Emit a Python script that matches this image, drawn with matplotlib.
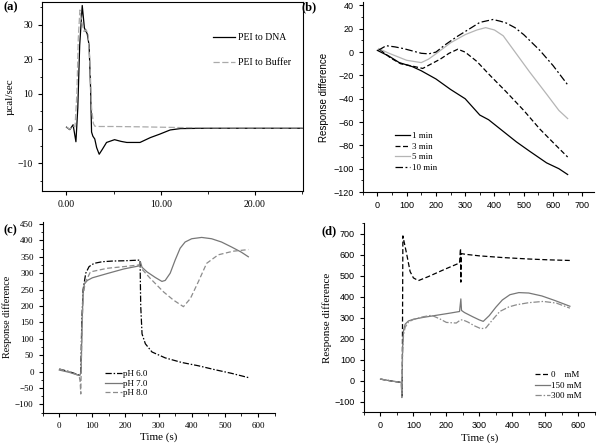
import numpy as np
import matplotlib
matplotlib.use('Agg')
import matplotlib.pyplot as plt
from matplotlib.ticker import MultipleLocator, FormatStrFormatter

# (a) ITC traces
dna_t = [0, 0.35, 0.7, 1.0, 1.2, 1.4, 1.67, 1.9, 2.2, 2.4, 2.55, 2.66, 2.8, 3.0, 3.2, 3.47, 3.8, 4.25, 5.1, 5.8, 6.4, 7.8, 8.9, 9.9, 11.0, 12.1, 15, 20, 25]
dna_y = [0.4, -0.3, 1.1, -3.8, 6, 24, 35.5, 29, 27.3, 24, 12, -1, -2.2, -3, -5.5, -7.4, -6, -4, -3.2, -3.7, -4, -4, -2.6, -1.6, -0.4, 0, 0.1, 0.1, 0.1]
buf_t = [0, 0.35, 0.7, 0.9, 1.1, 1.25, 1.42, 1.6, 1.85, 2.1, 2.3, 2.5, 2.66, 2.85, 3.0, 3.5, 5, 8, 12, 18, 25]
buf_y = [0.4, -0.2, 0.8, 0.5, 10, 26, 34.2, 31, 28, 28.5, 27, 18, 6, 1.5, 0.7, 0.6, 0.6, 0.5, 0.3, 0.2, 0.2]

# (b) injection interval
m1_x = [0, 40, 75, 120, 150, 200, 250, 300, 350, 380, 430, 475, 520, 578, 620, 650]
m1_y = [1.5, -3.5, -9, -12.5, -16, -23, -32, -40, -54, -58, -68, -77, -85, -95, -100, -105]
m3_x = [10, 45, 80, 120, 155, 185, 215, 245, 275, 300, 340, 385, 440, 500, 555, 610, 650]
m3_y = [2, -5, -10, -12, -14, -10, -6, -1, 2.5, 0, -8, -20, -34, -50, -66, -80, -90]
m5_x = [5, 40, 100, 150, 175, 200, 250, 300, 340, 370, 400, 430, 475, 520, 578, 620, 650]
m5_y = [3, -1, -7, -9, -6, -1.5, 8, 15, 19, 21, 19, 14, -1.5, -17, -36, -50, -57]
m10_x = [3, 30, 60, 90, 120, 150, 175, 200, 230, 270, 315, 350, 395, 420, 440, 470, 500, 555, 600, 650]
m10_y = [1.5, 5.5, 4.5, 3, 1, -1, -1.5, 0, 6, 13, 20, 25.5, 28, 26.5, 25, 21, 15, 1.5, -11.5, -28]

# (c) pH
ph6_x = [0, 30, 60, 65, 68, 72, 80, 90, 105, 130, 160, 200, 244, 246, 250, 260, 280, 320, 370, 420, 470, 520, 571]
ph6_y = [8, 0, -10, -5, 150, 250, 300, 320, 330, 335, 337, 338, 340, 200, 115, 85, 60, 42, 28, 18, 6, -5, -18]
ph7_x = [0, 30, 62, 66, 69, 72, 76, 85, 100, 145, 195, 240, 245, 250, 265, 290, 310, 320, 335, 350, 365, 380, 400, 430, 460, 490, 520, 550, 571]
ph7_y = [5, -2, -12, 0, 150, 240, 268, 278, 286, 299, 313, 322, 335, 318, 304, 287, 275, 278, 300, 340, 376, 395, 405, 409, 405, 395, 380, 364, 350]
ph8_x = [0, 30, 60, 63, 65, 68, 72, 78, 94, 145, 195, 240, 250, 275, 315, 345, 375, 396, 420, 445, 480, 525, 571]
ph8_y = [8, 0, -12, -30, -68, 100, 230, 270, 304, 315, 320, 325, 312, 284, 243, 218, 198, 223, 274, 330, 356, 367, 372]

# (d) salt
s0_x = [0, 30, 64, 66, 68, 72, 80, 90, 100, 115, 145, 195, 240, 243, 244, 245, 248, 260, 300, 370, 450, 510, 575]
s0_y = [8, 0, -8, -80, 690, 660, 600, 520, 490, 477, 496, 531, 561, 630, 470, 605, 605, 602, 595, 587, 580, 576, 573]
s150_x = [0, 30, 63, 65, 67, 70, 75, 85, 100, 130, 170, 210, 240, 244, 246, 255, 280, 300, 312, 330, 350, 370, 393, 420, 450, 490, 530, 575]
s150_y = [8, 0, -8, -60, 150, 240, 270, 285, 293, 302, 312, 322, 330, 390, 335, 325, 305, 290, 283, 310, 350, 385, 410, 420, 418, 404, 382, 355]
s300_x = [0, 30, 63, 65, 67, 70, 75, 85, 100, 130, 155, 180, 200, 230, 243, 250, 265, 285, 305, 320, 340, 362, 390, 413, 450, 494, 534, 575]
s300_y = [8, 0, -8, -80, 120, 220, 255, 280, 292, 305, 312, 295, 278, 275, 290, 290, 280, 262, 248, 252, 290, 330, 352, 362, 372, 378, 370, 346]

serif = 'Liberation Serif'
sans = 'Liberation Sans'
plt.rcParams['font.family'] = serif
plt.rcParams['xtick.direction'] = 'out'
plt.rcParams['ytick.direction'] = 'out'
plt.rcParams['xtick.major.size'] = 3
plt.rcParams['ytick.major.size'] = 3
plt.rcParams['xtick.minor.size'] = 1.8
plt.rcParams['ytick.minor.size'] = 1.8
plt.rcParams['axes.linewidth'] = 0.8

fig = plt.figure(figsize=(5.97, 4.43), dpi=100)
W, H = 597.0, 443.0

def box(l, t, r, b):
    return [l / W, 1 - b / H, (r - l) / W, (b - t) / H]

def tickfont(ax, fam, size):
    for lab in ax.get_xticklabels() + ax.get_yticklabels():
        lab.set_fontfamily(fam)
        lab.set_fontsize(size)

def leg(ax, l, t, r, b, x0, y0, **kw):
    # anchor legend at pixel position inside the axes box
    ax.legend(loc='upper left', bbox_to_anchor=((x0 - l) / (r - l), 1 - (y0 - t) / (b - t)),
              frameon=False, borderpad=0, borderaxespad=0, **kw)

# ---- (a)
A = (42, 2, 303, 191)
ax = fig.add_axes(box(*A))
ax.plot(dna_t, dna_y, color='black', lw=0.9, label='PEI to DNA')
ax.plot(buf_t, buf_y, color='#aaaaaa', lw=0.9, dashes=(5, 2), label='PEI to Buffer')
ax.set_xlim(-2.6, 25.1)
ax.set_ylim(-18, 36.5)
ax.xaxis.set_major_locator(MultipleLocator(10))
ax.xaxis.set_minor_locator(MultipleLocator(5))
ax.yaxis.set_major_locator(MultipleLocator(10))
ax.yaxis.set_minor_locator(MultipleLocator(5))
ax.xaxis.set_major_formatter(FormatStrFormatter('%.2f'))
ax.set_ylabel('\u00b5cal/sec', fontsize=8, family=serif, labelpad=2)
tickfont(ax, serif, 7)
leg(ax, *A, 213, 33.5, fontsize=7, handlelength=2.3, handletextpad=0.3, labelspacing=1.6)
fig.text(3 / W, 1 - 7 / H, '(a)', fontsize=9, fontweight='bold', family=serif, va='center')

# ---- (b)
B = (362.7, 2, 594, 192)
ax = fig.add_axes(box(*B))
ax.plot(m1_x, m1_y, color='black', lw=0.9, label='1 min')
ax.plot(m3_x, m3_y, color='black', lw=0.9, dashes=(4, 2), label='3 min')
ax.plot(m5_x, m5_y, color='#b5b5b5', lw=0.9, label='5 min')
ax.plot(m10_x, m10_y, color='black', lw=0.9, dashes=(6, 2, 1.5, 2), label='10 min')
ax.set_xlim(-50, 740)
ax.set_ylim(-120, 43)
ax.spines['top'].set_visible(False)
ax.spines['right'].set_visible(False)
ax.xaxis.set_major_locator(MultipleLocator(100))
ax.xaxis.set_minor_locator(MultipleLocator(50))
ax.yaxis.set_major_locator(MultipleLocator(20))
ax.yaxis.set_minor_locator(MultipleLocator(10))
ax.set_xticks(range(0, 701, 100))
ax.set_ylabel('Response difference', fontsize=7, family=sans, labelpad=3)
tickfont(ax, sans, 6.5)
leg(ax, *B, 395, 132, fontsize=6.5, handlelength=1.7, handletextpad=0.2, labelspacing=0.25)
fig.text(302 / W, 1 - 7 / H, '(b)', fontsize=9, fontweight='bold', family=serif, va='center')

# ---- (c)
C = (42.7, 222, 274.5, 412.7)
ax = fig.add_axes(box(*C))
ax.plot(ph6_x, ph6_y, color='black', lw=0.9, dashes=(5, 1.5, 1.2, 1.5), label='pH 6.0')
ax.plot(ph7_x, ph7_y, color='#777777', lw=0.9, label='pH 7.0')
ax.plot(ph8_x, ph8_y, color='#8c8c8c', lw=0.9, dashes=(4, 2), label='pH 8.0')
ax.set_xlim(-50, 650)
ax.set_ylim(-125, 456)
ax.spines['top'].set_visible(False)
ax.spines['right'].set_visible(False)
ax.xaxis.set_minor_locator(MultipleLocator(50))
ax.yaxis.set_minor_locator(MultipleLocator(25))
ax.set_xticks(range(0, 601, 100))
ax.set_yticks(range(-100, 451, 50))
ax.set_ylabel('Response difference', fontsize=7.3, family=serif, labelpad=2)
ax.set_xlabel('Time (s)', fontsize=8, family=serif, labelpad=2)
tickfont(ax, serif, 6.5)
leg(ax, *C, 105, 370, fontsize=6.5, handlelength=1.9, handletextpad=0.1, labelspacing=0.12)
fig.text(3 / W, 1 - 230 / H, '(c)', fontsize=9, fontweight='bold', family=serif, va='center')

# ---- (d)
D = (364, 223.3, 594.6, 412.3)
ax = fig.add_axes(box(*D))
ax.plot(s0_x, s0_y, color='black', lw=0.9, dashes=(4, 2), label='0    mM')
ax.plot(s150_x, s150_y, color='#777777', lw=0.9, label='150 mM')
ax.plot(s300_x, s300_y, color='#8c8c8c', lw=0.9, dashes=(5, 1.5, 1.2, 1.5), label='300 mM')
ax.set_xlim(-50, 650)
ax.set_ylim(-150, 750)
ax.spines['top'].set_visible(False)
ax.spines['right'].set_visible(False)
ax.xaxis.set_minor_locator(MultipleLocator(50))
ax.yaxis.set_minor_locator(MultipleLocator(50))
ax.set_xticks(range(0, 601, 100))
ax.set_yticks(range(-100, 701, 100))
ax.set_ylabel('Response difference', fontsize=8, family=serif, labelpad=2)
ax.set_xlabel('Time (s)', fontsize=8, family=serif, labelpad=2)
tickfont(ax, sans, 6.5)
leg(ax, *D, 535, 371, fontsize=6.5, handlelength=1.7, handletextpad=0.1, labelspacing=0.25)
fig.text(322 / W, 1 - 231 / H, '(d)', fontsize=9, fontweight='bold', family=serif, va='center')

fig.savefig('out.png', dpi=100)
